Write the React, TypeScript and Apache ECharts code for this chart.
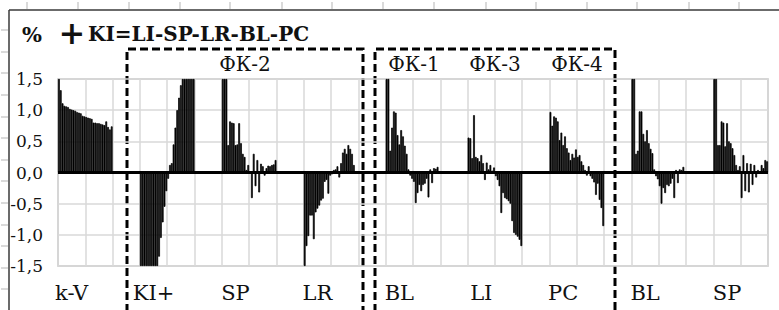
import React, { useEffect, useRef } from "react";
import * as echarts from "echarts";

// ---- data ----
const groupLabels = ["k-V", "KI+", "SP", "LR", "BL", "LI", "PC", "BL", "SP"];
const kV = [1.5, 1.32, 1.11, 1.07, 1.06, 1.05, 1.02, 1.01, 1.0, 0.99, 0.97, 0.96, 0.95, 0.91, 0.9, 0.89, 0.88, 0.87, 0.86, 0.8, 0.8, 0.79, 0.79, 0.78, 0.77, 0.76, 0.82, 0.73, 0.69, 0.74];
const kiPlus = [-1.5, -1.5, -1.5, -1.5, -1.5, -1.5, -1.5, -1.5, -1.5, -1.5, -1.35, -1.05, -0.8, -0.55, -0.3, -0.1, 0.12, 0.15, 0.45, 0.72, 1.0, 1.2, 1.4, 1.5, 1.5, 1.5, 1.5, 1.5, 1.5, 1.5];
const sp1 = [1.5, 1.5, 1.5, 0.44, 0.82, 0.8, 0.79, 0.44, 0.45, 0.79, 0.47, 0.3, 0.25, 0.04, 0.12, 0.02, -0.41, 0.3, -0.22, 0.2, -0.32, 0.14, 0.1, -0.05, 0.07, 0.11, 0.1, 0.12, 0.13, 0.2];
const lr = [-1.5, -1.18, -1.02, -0.69, -0.69, -1.07, -0.64, -0.58, -0.53, -0.45, -0.42, -0.15, -0.12, -0.34, -0.05, -0.03, 0.04, 0.05, 0.1, -0.08, 0.15, 0.32, 0.38, 0.3, 0.44, 0.38, 0.3, 0.12, 0.0, 0.0];
const bl1 = [1.5, 1.5, 0.35, 0.72, 0.98, 0.96, 0.6, 0.45, 0.68, 0.58, 0.43, 0.3, 0.05, -0.05, -0.1, -0.15, -0.49, -0.33, -0.2, -0.3, -0.2, -0.18, -0.1, -0.4, 0.05, -0.17, 0.07, 0.06, 0.09, 0.0];
const li = [0.56, 0.55, 0.23, 0.92, 0.25, 0.23, 0.18, 0.28, 0.15, -0.12, 0.16, 0.05, 0.12, 0.03, 0.08, -0.06, -0.12, -0.22, -0.65, -0.33, -0.41, -0.43, -0.46, -0.5, -0.78, -0.97, -1.0, -1.03, -1.08, -1.18];
const pc = [0.97, 0.75, 0.9, 0.88, 0.82, 0.52, 0.64, 0.44, 0.58, 0.39, 0.32, 0.2, 0.3, 0.24, 0.37, 0.25, 0.28, 0.18, 0.12, 0.04, -0.05, 0.1, -0.06, -0.1, -0.16, -0.36, -0.18, -0.44, -0.57, -0.86];
const bl2 = [1.5, 1.5, 0.3, 0.35, 0.98, 0.98, 0.62, 0.5, 0.68, 0.47, 0.38, 0.31, 0.05, -0.06, -0.11, -0.22, -0.5, -0.25, -0.33, -0.2, -0.22, -0.18, -0.1, -0.41, 0.04, -0.17, 0.05, 0.04, 0.09, 0.0];
const sp2 = [1.5, 1.5, 0.44, 0.44, 0.82, 0.8, 0.42, 0.79, 0.5, 0.47, 0.39, 0.28, 0.12, 0.04, 0.1, -0.41, 0.28, -0.3, 0.15, -0.32, 0.14, -0.2, 0.12, -0.08, 0.04, 0.02, 0.12, 0.07, 0.2, 0.18];
const groupValues = [kV, kiPlus, sp1, lr, bl1, li, pc, bl2, sp2];
const blanksBetweenGroups = 15;
const categoriesPerGridColumn = 15;
const labelOffsetInGroup = 7;
const yMin = -1.5;
const yMax = 1.5;
const yStep = 0.5;
const fkLabels = ["ФК-2", "ФК-1", "ФК-3", "ФК-4"];
const titlePercent = "%";
const titlePlus = "+";
const titleText = "KI=LI-SP-LR-BL-PC";

// ---- build the category table ----
const categories: string[] = [];
const values: (number | null)[] = [];
const labelAt: Record<number, string> = {};
groupValues.forEach((g, gi) => {
  g.forEach((v, i) => {
    if (i === labelOffsetInGroup) labelAt[categories.length] = groupLabels[gi];
    categories.push(String(categories.length));
    values.push(v);
  });
  if (gi < groupValues.length - 1) {
    for (let k = 0; k < blanksBetweenGroups; k++) {
      categories.push(String(categories.length));
      values.push(null);
    }
  }
});

const SERIF = "DejaVu Serif";

function txt(text: string, x: number, y: number, size: number, weight: string, align: string) {
  return {
    type: "text",
    x,
    y,
    silent: true,
    style: {
      text,
      font: `${weight} ${size}px ${SERIF}`,
      fill: "#111",
      textAlign: align,
      align,
      textVerticalAlign: "middle",
      verticalAlign: "middle",
    },
  };
}

function seg(x1: number, y1: number, x2: number, y2: number, stroke: string, w: number) {
  return { type: "line", silent: true, shape: { x1, y1, x2, y2 }, style: { stroke, lineWidth: w } };
}

export default function App() {
  const ref = useRef<HTMLDivElement>(null);
  useEffect(() => {
    if (!ref.current) return;
    const chart = echarts.init(ref.current, null, { renderer: "svg" });

    const topTicks = [27, 78, 129, 180, 230, 282, 332, 383, 434, 486, 536, 587, 637, 689, 739];
    const leftTicks = [30, 52, 73, 95, 117, 138, 160, 181, 203, 225, 246, 268, 289];
    const graphics: any[] = [];
    topTicks.forEach((x) => graphics.push(seg(x, 2, x, 9, "#b5b5b5", 1)));
    leftTicks.forEach((y) => graphics.push(seg(1, y, 8, y, "#b5b5b5", 1)));
    graphics.push(seg(9, 10, 779, 10, "#3a3a3a", 1.5));
    graphics.push(seg(9, 10, 9, 310, "#3a3a3a", 1.5));
    const dashed = { stroke: "#000", lineWidth: 3, lineDash: [8, 4], fill: null };
    graphics.push({ type: "polyline", silent: true, shape: { points: [[127, 312], [127, 49], [363, 49], [363, 312]] }, style: dashed });
    graphics.push({ type: "polyline", silent: true, shape: { points: [[375, 312], [375, 49], [615, 49], [615, 312]] }, style: dashed });
    const fkX = [245, 414, 495, 577];
    fkLabels.forEach((t, i) => graphics.push(txt(t, fkX[i], 64, 20, "normal", "center")));
    graphics.push(txt(titlePercent, 22, 34, 21, "bold", "left"));
    graphics.push(txt(titlePlus, 72, 33, 32, "bold", "center"));
    graphics.push(txt(titleText, 88, 34, 20, "bold", "left"));

    chart.setOption({
      animation: false,
      backgroundColor: "#fff",
      grid: {
        left: 58,
        right: 11,
        top: 79,
        bottom: 44,
        show: true,
        borderColor: "#bfbfbf",
        borderWidth: 1.5,
        outerBoundsMode: "none",
        containLabel: false,
      },
      xAxis: {
        type: "category",
        data: categories,
        axisLine: { show: false },
        axisTick: { show: false },
        splitLine: { show: true, interval: categoriesPerGridColumn - 1, lineStyle: { color: "#d9d9d9", width: 1.5 } },
        axisLabel: {
          interval: (index: number) => labelAt[index] !== undefined,
          formatter: (_v: string, index: number) => labelAt[index] ?? "",
          fontFamily: SERIF,
          fontSize: 21,
          color: "#111",
          margin: 16,
          align: "center",
        },
      },
      yAxis: {
        type: "value",
        min: yMin,
        max: yMax,
        interval: yStep,
        axisLine: { show: false },
        axisTick: { show: false },
        splitLine: { show: true, lineStyle: { color: "#d9d9d9", width: 1.5 } },
        axisLabel: {
          formatter: (v: number) => v.toFixed(1).replace(".", ","),
          fontFamily: SERIF,
          fontSize: 17,
          color: "#111",
          margin: 15,
        },
      },
      series: [
        {
          type: "bar",
          data: values,
          barCategoryGap: "0%",
          itemStyle: { color: "#000", borderColor: "#000", borderWidth: 0.7 },
          silent: true,
          markLine: {
            silent: true,
            symbol: ["none", "none"],
            label: { show: false },
            lineStyle: { color: "#000", width: 3, type: "solid" },
            data: [{ yAxis: 0 }],
          },
        },
      ],
      graphic: { elements: graphics },
    });
    return () => chart.dispose();
  }, []);
  return (
    <div
      ref={ref}
      style={{ position: "fixed", left: 0, top: 0, width: 779, height: 310, background: "#fff" }}
    />
  );
}
